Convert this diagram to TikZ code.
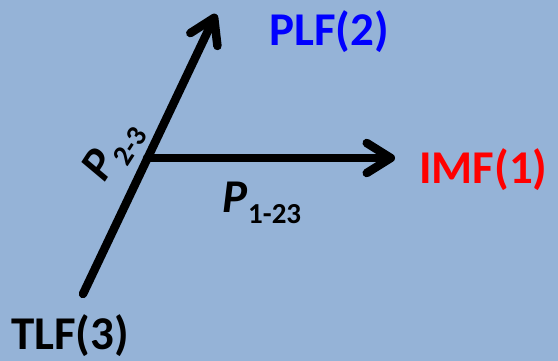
\documentclass[tikz,border=0pt]{standalone}
\usepackage{fontspec}
\setmainfont{Carlito}
\usetikzlibrary{arrows.meta}
\definecolor{bgblue}{RGB}{149,179,215}
\definecolor{lblblue}{RGB}{0,0,255}
\definecolor{lblred}{RGB}{255,0,0}
\newcommand{\bigtxt}{\fontsize{47}{47}\selectfont\bfseries}
\newcommand{\subtxtsz}{\fontsize{29}{29}\selectfont\bfseries}
\begin{document}
\begin{tikzpicture}[x=1pt,y=-1pt,
  axis/.style={line width=8.5pt, line cap=round, line join=round,
    -{Straight Barb[length=24pt,width=30pt,line cap=round,line join=round]}},
  lbl/.style={inner sep=0pt, anchor=base west, font=\bigtxt}]
\fill[bgblue] (0,0) rectangle (558,361);
\useasboundingbox (0,0) rectangle (558,361);
\coordinate (t3) at (83,294);
\coordinate (t2) at (216,14);
\coordinate (o) at (147,158);
\coordinate (t1) at (395,158);
\draw[axis] (t3) -- (t2);
\draw[axis] (o) -- (t1);
\node[lbl, text=lblblue] (plf) at (269,46) {PLF(2)};
\node[lbl, text=lblred] (imf) at (419,184) {IMF(1)};
\node[lbl, text=black] (tlf) at (11,349) {TLF(3)};
\node[lbl, text=black] (p123) at (222,212) {\itshape P\kern1pt\raisebox{-11pt}{\subtxtsz\upshape 1-23}};
\node[inner sep=0pt, font=\bigtxt, rotate=57] (p23) at (114,151) {\itshape P\kern1pt\raisebox{-11pt}{\subtxtsz\upshape 2-3}};
\end{tikzpicture}
\end{document}
